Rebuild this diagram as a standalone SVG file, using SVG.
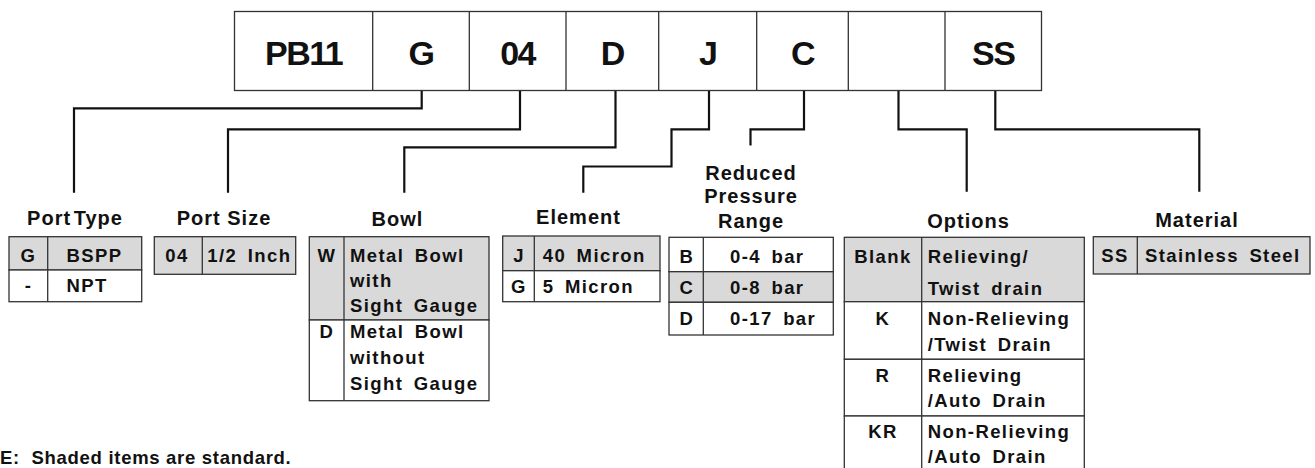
<svg xmlns="http://www.w3.org/2000/svg" width="1315" height="468" viewBox="0 0 1315 468">
<style>
text{font-family:"Liberation Sans",Arial,sans-serif;font-weight:bold;fill:#111}
.code{font-size:34px;letter-spacing:-1.5px;text-anchor:middle}
.title{font-size:20px;letter-spacing:1px;text-anchor:middle}
.t{font-size:18.5px;letter-spacing:1.4px;word-spacing:4px}
.m{text-anchor:middle}
.note{font-size:18.5px;letter-spacing:0.7px;word-spacing:0}
.cell{stroke:#333;stroke-width:1.3;fill:#fff}
.sh{fill:#d9d9d9}
.ln{stroke:#333;stroke-width:1.3;fill:none}
.conn path{fill:none;stroke:#111;stroke-width:2.2}
</style>
<g id="code-box">
<rect class="cell" x="234.5" y="11.5" width="807" height="79"/>
<path class="ln" d="M372.7 11.5V90.5M469.3 11.5V90.5M566 11.5V90.5M658.7 11.5V90.5M756.7 11.5V90.5M848.3 11.5V90.5M945 11.5V90.5"/>
<text class="code" x="303.6" y="65">PB11</text>
<text class="code" x="421" y="65">G</text>
<text class="code" x="517.6" y="65">04</text>
<text class="code" x="612.3" y="65">D</text>
<text class="code" x="707.7" y="65">J</text>
<text class="code" x="802.5" y="65">C</text>
<text class="code" x="993.3" y="65">SS</text>
</g>
<g id="connectors" class="conn">
<path d="M421.7 91V108.3H74V192.7"/>
<path d="M520 91V129.3H228V192.7"/>
<path d="M615.5 91V147.3H404.3V192.7"/>
<path d="M709 91V129.3H671.5V166.5H583.3V192.7"/>
<path d="M804 91V129.3H750.5V145.5"/>
<path d="M898.5 91V129.3H966.7V191.7"/>
<path d="M995.3 91V129.3H1199.3V191.7"/>
</g>
<g id="port-type">
<text class="title" x="75" y="225" word-spacing="-4">Port Type</text>
<rect class="cell sh" x="9" y="236.7" width="132.7" height="33.3"/>
<rect class="cell" x="9" y="270" width="132.7" height="31.7"/>
<path class="ln" d="M47.7 236.7V301.7"/>
<text class="t m" x="28.5" y="261.7">G</text>
<text class="t" x="66.5" y="261.7">BSPP</text>
<text class="t m" x="28.5" y="292">-</text>
<text class="t" x="66.5" y="292">NPT</text>
</g>
<g id="port-size">
<text class="title" x="224" y="225">Port Size</text>
<rect class="cell sh" x="154.3" y="236.7" width="141.4" height="37.6"/>
<path class="ln" d="M202.3 236.7V274.3"/>
<text class="t m" x="177" y="261.7">04</text>
<text class="t" x="207.3" y="261.7">1/2 Inch</text>
</g>
<g id="bowl">
<text class="title" x="397.5" y="226">Bowl</text>
<rect class="cell sh" x="309.3" y="236.7" width="179.7" height="83.3"/>
<rect class="cell" x="309.3" y="320" width="179.7" height="80.7"/>
<path class="ln" d="M344 236.7V400.7"/>
<text class="t m" x="327" y="261.7">W</text>
<text class="t" x="350" y="261.7">Metal Bowl</text>
<text class="t" x="350" y="286.7">with</text>
<text class="t" x="350" y="311.7">Sight Gauge</text>
<text class="t m" x="327" y="338.3">D</text>
<text class="t" x="350" y="338.3">Metal Bowl</text>
<text class="t" x="350" y="364">without</text>
<text class="t" x="350" y="390">Sight Gauge</text>
</g>
<g id="element">
<text class="title" x="578.5" y="223.5">Element</text>
<rect class="cell sh" x="502.7" y="236" width="157.3" height="34.7"/>
<rect class="cell" x="502.7" y="270.7" width="157.3" height="31"/>
<path class="ln" d="M534.3 236V301.7"/>
<text class="t m" x="519" y="262.3">J</text>
<text class="t" x="542.7" y="262.3">40 Micron</text>
<text class="t m" x="519" y="293.3">G</text>
<text class="t" x="542.7" y="293.3">5 Micron</text>
</g>
<g id="pressure-range">
<text class="title" x="751" y="180">Reduced</text>
<text class="title" x="751" y="203.3">Pressure</text>
<text class="title" x="751" y="227.7">Range</text>
<rect class="cell" x="669" y="237.3" width="164.3" height="34.4"/>
<rect class="cell sh" x="669" y="271.7" width="164.3" height="30.6"/>
<rect class="cell" x="669" y="302.3" width="164.3" height="32.7"/>
<path class="ln" d="M703.3 237.3V335"/>
<text class="t m" x="687" y="263.3">B</text>
<text class="t" x="730" y="263.3">0-4 bar</text>
<text class="t m" x="687" y="294.3">C</text>
<text class="t" x="730" y="294.3">0-8 bar</text>
<text class="t m" x="687" y="325">D</text>
<text class="t" x="730" y="325">0-17 bar</text>
</g>
<g id="options">
<text class="title" x="968.5" y="228.3">Options</text>
<rect class="cell sh" x="844.3" y="237.3" width="240" height="64.4"/>
<rect class="cell" x="844.3" y="301.7" width="240" height="57.6"/>
<rect class="cell" x="844.3" y="359.3" width="240" height="56.7"/>
<rect class="cell" x="844.3" y="416" width="240" height="60"/>
<path class="ln" d="M921.7 237.3V476"/>
<text class="t m" x="883" y="263.3">Blank</text>
<text class="t" x="927.7" y="263.3">Relieving/</text>
<text class="t" x="927.7" y="295">Twist drain</text>
<text class="t m" x="883" y="325">K</text>
<text class="t" x="927.7" y="325">Non-Relieving</text>
<text class="t" x="927.7" y="350.5">/Twist Drain</text>
<text class="t m" x="883" y="381.7">R</text>
<text class="t" x="927.7" y="381.7">Relieving</text>
<text class="t" x="927.7" y="406.7">/Auto Drain</text>
<text class="t m" x="883" y="438.3">KR</text>
<text class="t" x="927.7" y="438.3">Non-Relieving</text>
<text class="t" x="927.7" y="463.3">/Auto Drain</text>
</g>
<g id="material">
<text class="title" x="1197" y="227.3">Material</text>
<rect class="cell sh" x="1093.3" y="236.7" width="216.7" height="37.3"/>
<path class="ln" d="M1137.3 236.7V274"/>
<text class="t m" x="1115" y="261.7">SS</text>
<text class="t" x="1145" y="261.7">Stainless Steel</text>
</g>
<g id="note">
<text class="note" x="0" y="464.3" xml:space="preserve">E:  Shaded items are standard.</text>
</g>
</svg>
